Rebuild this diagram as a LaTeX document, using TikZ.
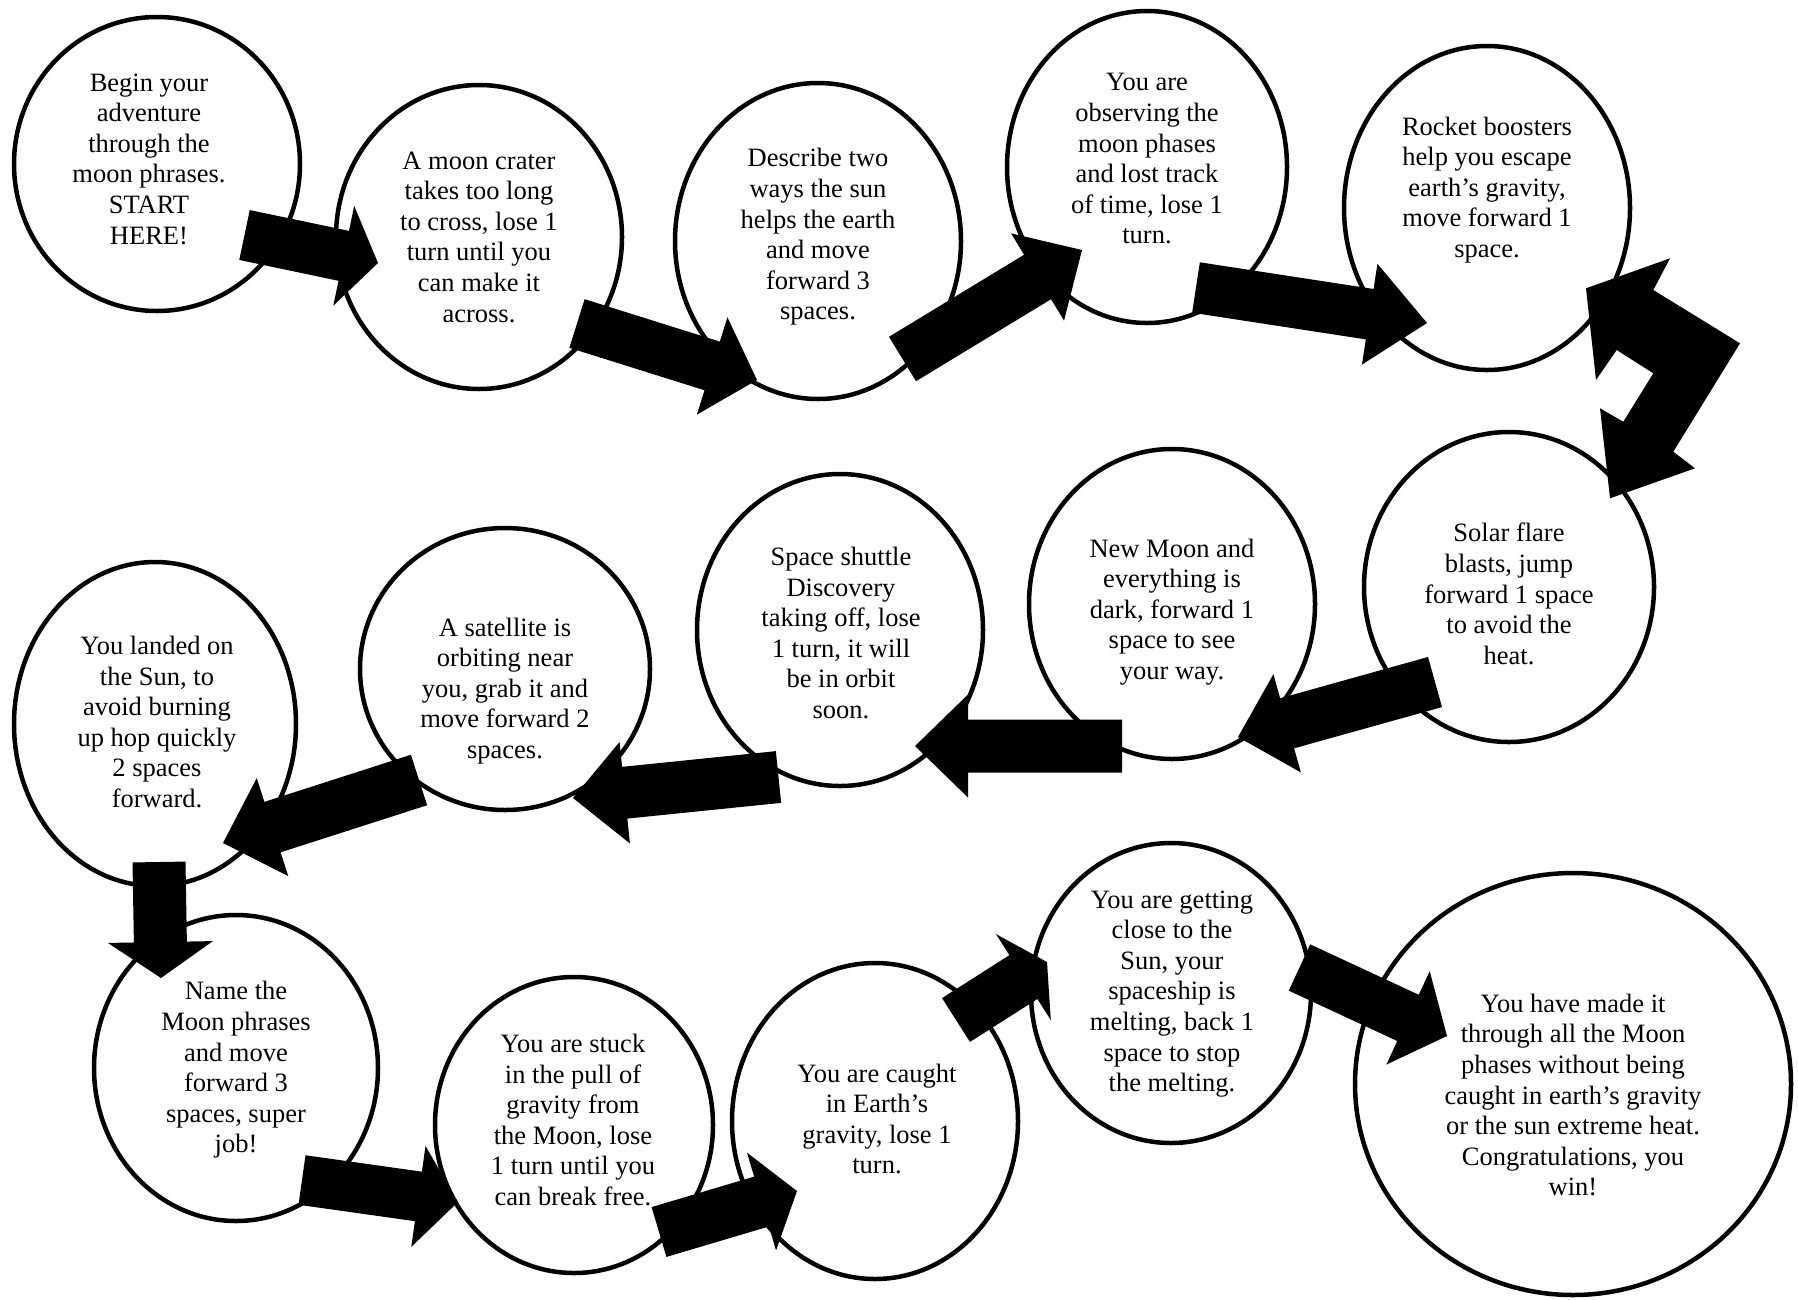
\documentclass[tikz,border=0pt]{standalone}
\usepackage{fontspec}
\setmainfont{Liberation Serif}
\usetikzlibrary{calc,shapes.geometric}

\tikzset{
  station/.style={draw, ellipse, line width=4.5pt, inner sep=0pt},
  stationtext/.style={align=center, font=\fontsize{26.5}{30.6}\selectfont},
}

% block arrow: tail, tip, half shaft, half head, head length
\newcommand\blockarrow[5]{%
  \coordinate (ab) at ($(#2)!#5!(#1)$);
  \fill ($(#1)!#3!90:(#2)$) -- ($(ab)!#3!-90:(#1)$) -- ($(ab)!#4!-90:(#1)$) -- (#2)
    -- ($(ab)!#4!90:(#1)$) -- ($(ab)!#3!90:(#1)$) -- ($(#1)!#3!-90:(#2)$) -- cycle;
}

\begin{document}
\begin{tikzpicture}[x=1pt,y=-1pt]
    \useasboundingbox (0,0) rectangle (1798,1299);

    % the board
    \foreach \i/\cx/\cy/\rx/\ry in {1/157/164/143/147, 2/479/237/143/152, 3/818/241/143/158,
        4/1147/167/140/156, 5/1487/208/143/162, 6/1509/587/145/155, 7/1172/604/143/155,
        8/840/630/143/156, 9/505/669/145/141, 10/155/724/141/162, 11/236/1068/142/153,
        12/574/1125/139/148, 13/875/1121/143/158, 14/1171/993/140/150, 15/1573/1084/218/211}
        \node[station, minimum width=2*\rx, minimum height=2*\ry] (s\i) at (\cx,\cy) {};

    \node[stationtext] (t1) at (149,159) {Begin your\\adventure\\through the\\moon phrases.\\START\\HERE!};
    \node[stationtext] (t2) at (479,237) {A moon crater\\takes too long\\to cross, lose 1\\turn until you\\can make it\\across.};
    \node[stationtext] (t3) at (818,237) {Describe two\\ways the sun\\helps the earth\\and move\\forward 3\\spaces.};
    \node[stationtext] (t4) at (1147,159) {You are\\observing the\\moon phases\\and lost track\\of time, lose 1\\turn.};
    \node[stationtext] (t5) at (1487,190) {Rocket boosters\\help you escape\\earth’s gravity,\\move forward 1\\space.};
    \node[stationtext] (t6) at (1509,594) {Solar flare\\blasts, jump\\forward 1 space\\to avoid the\\heat.};
    \node[stationtext] (t7) at (1172,612) {New Moon and\\everything is\\dark, forward 1\\space to see\\your way.};
    \node[stationtext] (t8) at (841,633) {Space shuttle\\Discovery\\taking off, lose\\1 turn, it will\\be in orbit\\soon.};
    \node[stationtext] (t9) at (505,691) {A satellite is\\orbiting near\\you, grab it and\\move forward 2\\spaces.};
    \node[stationtext] (t10) at (157,722) {You landed on\\the Sun, to\\avoid burning\\up hop quickly\\2 spaces\\forward.};
    \node[stationtext] (t11) at (236,1070) {Name the\\Moon phrases\\and move\\forward 3\\spaces, super\\job!};
    \node[stationtext] (t12) at (573,1120) {You are stuck\\in the pull of\\gravity from\\the Moon, lose\\1 turn until you\\can break free.};
    \node[stationtext] (t13) at (877,1119) {You are caught\\in Earth’s\\gravity, lose 1\\turn.};
    \node[stationtext] (t14) at (1172,994) {You are getting\\close to the\\Sun, your\\spaceship is\\melting, back 1\\space to stop\\the melting.};
    \node[stationtext] (t15) at (1573,1095) {You have made it\\through all the Moon\\phases without being\\caught in earth’s gravity\\or the sun extreme heat.\\Congratulations, you\\win!};

    % arrows between the spaces
    \foreach \i/\s/\e/\w/\h/\l in {1/{244.5,235}/{378,263}/25.5pt/51pt/35pt,
        2/{577,323.5}/{757,380}/25.5pt/51pt/47pt,
        3/{902.5,359}/{1082,250}/26pt/51pt/52pt,
        4/{1196,287.5}/{1427,323}/25.5pt/51pt/58pt,
        6/{1435,682}/{1238,737}/26pt/51pt/51pt,
        7/{1122,746}/{915,746}/26.5pt/51.5pt/53pt,
        8/{778.5,777}/{573,798}/26pt/51pt/52pt,
        9/{419,780}/{223,843}/26.5pt/51.5pt/52pt,
        10/{159,862}/{161,978}/26.5pt/52.5pt/36pt,
        11/{302,1180}/{458,1202}/25pt/51pt/40pt,
        12/{659,1232}/{797,1191}/26pt/51pt/37pt,
        13/{956,1020}/{1047,962}/26pt/51pt/28pt,
        14/{1299.5,967.5}/{1447,1036}/25.5pt/51.5pt/43pt} {
        \coordinate (tail\i) at (\s);
        \coordinate (tip\i) at (\e);
        \blockarrow{tail\i}{tip\i}{\w}{\h}{\l}
    }

    % the turn on the right
    \fill (1586,288.3) -- (1670,258.3) -- (1653.3,290) -- (1740,343.3) -- (1673.3,451.7)
        -- (1695,468.3) -- (1610,498.3) -- (1600,408.3) -- (1623.3,421.7) -- (1653.3,373.3)
        -- (1616.7,350) -- (1596,380) -- cycle;
\end{tikzpicture}
\end{document}
